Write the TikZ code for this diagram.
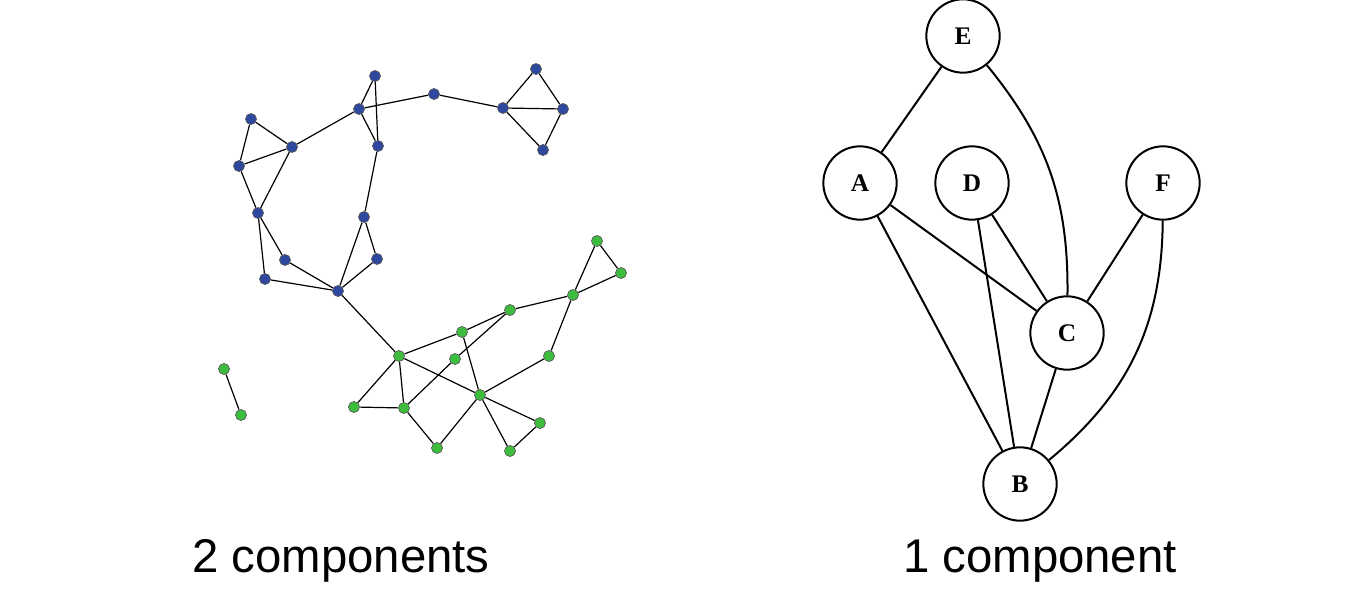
\documentclass[tikz,border=0pt]{standalone}
\usepackage{fontspec}
\setmainfont{Liberation Serif}
\newfontfamily\capfont{Liberation Sans}
\usetikzlibrary{positioning}
\definecolor{netblue}{RGB}{46,72,160}
\definecolor{netgreen}{RGB}{62,188,62}
\tikzset{
        bdot/.style={circle, fill=netblue, draw=black!65, line width=0.5pt, inner sep=0pt, minimum size=8.3pt}, % blue vertex
        gdot/.style={circle, fill=netgreen, draw=black!65, line width=0.5pt, inner sep=0pt, minimum size=8.3pt}, % green vertex
        vert/.style={circle, draw, line width=1.5pt, inner sep=0pt, minimum size=55pt, font=\bfseries\fontsize{19}{23}\selectfont}, % lettered vertex
        net/.style={line width=0.9pt}, % edges of the left network
        link/.style={line width=1.5pt}, % edges of the right graph
        caption/.style={anchor=base, font=\capfont\fontsize{35.5}{40}\selectfont},
}
\begin{document}
\begin{tikzpicture}[x=0.75pt, y=-0.75pt]
\useasboundingbox (0,0) rectangle (1360,616);

% left network, blue component
\node[bdot] (b1) at (375,76) {};
\node[bdot] (b2) at (359,109) {};
\node[bdot] (b3) at (378,146) {};
\node[bdot] (b4) at (251,119) {};
\node[bdot] (b5) at (292,147) {};
\node[bdot] (b6) at (239,166) {};
\node[bdot] (b7) at (258,213) {};
\node[bdot] (b8) at (364,217) {};
\node[bdot] (b9) at (434,94) {};
\node[bdot] (b10) at (503,108) {};
\node[bdot] (b11) at (536,69) {};
\node[bdot] (b12) at (563,109) {};
\node[bdot] (b13) at (543,150) {};
\node[bdot] (b14) at (285,260) {};
\node[bdot] (b15) at (377,259) {};
\node[bdot] (b16) at (265,279) {};
\node[bdot] (b17) at (338,291) {};

% left network, green component
\node[gdot] (g1) at (399,356) {};
\node[gdot] (g2) at (597,241) {};
\node[gdot] (g3) at (621,273) {};
\node[gdot] (g4) at (573,295) {};
\node[gdot] (g5) at (510,310) {};
\node[gdot] (g6) at (462,332) {};
\node[gdot] (g7) at (455,359) {};
\node[gdot] (g8) at (549,356) {};
\node[gdot] (g9) at (480,395) {};
\node[gdot] (g10) at (354,407) {};
\node[gdot] (g11) at (404,408) {};
\node[gdot] (g12) at (437,448) {};
\node[gdot] (g13) at (540,423) {};
\node[gdot] (g14) at (510,451) {};
\node[gdot] (g15) at (224,369) {};
\node[gdot] (g16) at (241,415) {};

\draw[net] (b1) -- (b2) (b1) -- (b3) (b2) -- (b3) (b2) -- (b5) (b2) -- (b9);
\draw[net] (b9) -- (b10) (b10) -- (b11) (b10) -- (b12) (b10) -- (b13) (b11) -- (b12) (b12) -- (b13);
\draw[net] (b4) -- (b5) (b4) -- (b6) (b6) -- (b5) (b6) -- (b7) (b5) -- (b7) (b3) -- (b8);
\draw[net] (b7) -- (b14) (b7) -- (b16) (b14) -- (b17) (b16) -- (b17);
\draw[net] (b8) -- (b17) (b8) -- (b15) (b15) -- (b17) (b17) -- (g1);

\draw[net] (g1) -- (g6) (g1) -- (g9) (g1) -- (g10) (g1) -- (g11) (g10) -- (g11);
\draw[net] (g11) -- (g7) (g11) -- (g12) (g7) -- (g5) (g6) -- (g5) (g6) -- (g9);
\draw[net] (g5) -- (g4) (g4) -- (g2) (g4) -- (g3) (g2) -- (g3) (g4) -- (g8) (g8) -- (g9);
\draw[net] (g9) -- (g12) (g9) -- (g13) (g9) -- (g14) (g13) -- (g14);
\draw[net] (g15) -- (g16);

% right graph
\node[vert] (E) at (963,36) {E};
\node[vert] (A) at (860,183) {A};
\node[vert] (D) at (972,183) {D};
\node[vert] (F) at (1163,183) {F};
\node[vert] (C) at (1067,333) {C};
\node[vert] (B) at (1020,484) {B};

\draw[link] (E) -- (A);
\draw[link] (E) to[bend left=20] (C);
\draw[link] (A) -- (C);
\draw[link] (A) -- (B);
\draw[link] (D) -- (C);
\draw[link] (D) -- (B);
\draw[link] (F) -- (C);
\draw[link] (F) to[bend left=25] (B);
\draw[link] (C) -- (B);

\node[caption] (cap1) at (341,572) {2 components};
\node[caption] (cap2) at (1040,572) {1 component};

\end{tikzpicture}
\end{document}
